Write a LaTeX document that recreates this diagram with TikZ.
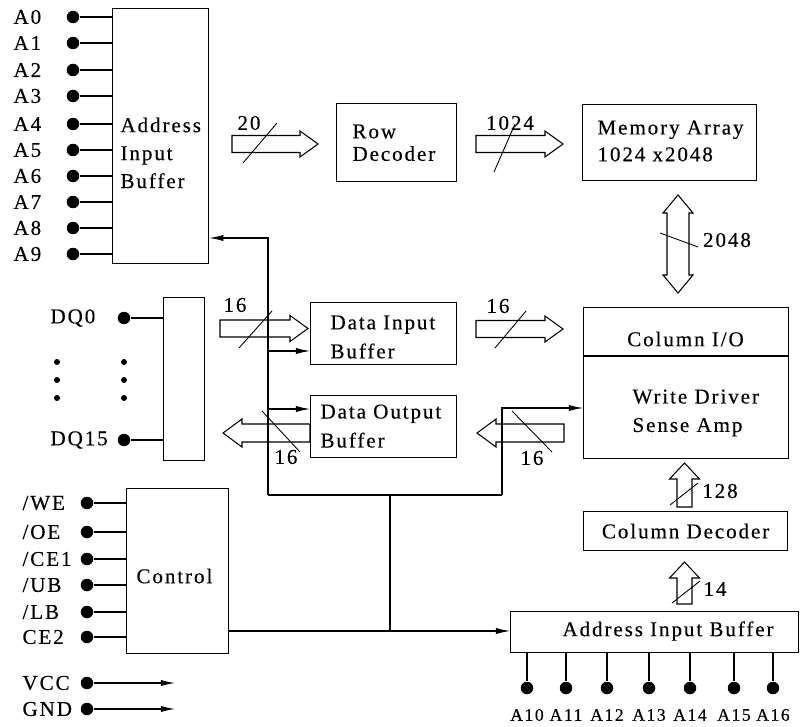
\documentclass[tikz,border=0pt]{standalone}
\usepackage{fontspec}
\setmainfont{Liberation Serif}[LetterSpace=9, FakeBold=0.3]
\usetikzlibrary{arrows.meta}

\newcommand{\pxu}{0.02cm}
% hollow bus arrows, numbers in pixels: tail x, tip x, centre y
\newcommand{\busright}[3]{%
  \draw[bus] (#1,#3-8.5) -- (#2-18,#3-8.5) -- (#2-18,#3-13) -- (#2,#3)
    -- (#2-18,#3+13) -- (#2-18,#3+8.5) -- (#1,#3+8.5) -- cycle;}
\newcommand{\busleft}[3]{%
  \draw[bus] (#1,#3-9) -- (#2+19,#3-9) -- (#2+19,#3-14) -- (#2,#3)
    -- (#2+19,#3+14) -- (#2+19,#3+9) -- (#1,#3+9) -- cycle;}
% centre x, tail y, tip y
\newcommand{\busup}[3]{%
  \draw[bus] (#1-7.5,#2) -- (#1-7.5,#3+16) -- (#1-15,#3+16) -- (#1,#3)
    -- (#1+15,#3+16) -- (#1+7.5,#3+16) -- (#1+7.5,#2) -- cycle;}

\begin{document}
\begin{tikzpicture}[x=0.02cm, y=-0.02cm, line width=0.6pt,
  every node/.style={font=\fontsize{12}{14}\selectfont},
  block/.style={draw, line width=0.7pt, anchor=north west, inner sep=0pt},
  txt/.style={inner sep=0pt, align=left},
  pin/.style={circle, fill, inner sep=0pt, minimum size=0.25cm},
  tinydot/.style={circle, fill, inner sep=0pt, minimum size=0.12cm},
  sig/.style={-{Latex[length=8pt,width=3.5pt]}},
  bus/.style={line width=0.6pt},
  slash/.style={line width=0.5pt}]

  \useasboundingbox (0,0) rectangle (800,726);

  % --- row address side ---
  \node[block, minimum width=96*\pxu, minimum height=255*\pxu] (aib) at (112,8) {};
  \node[txt, anchor=north west, font=\fontsize{12}{15.9}\selectfont] (aibtxt) at (120,117)
    {Address\\Input\\Buffer};
  \foreach \i/\y in {0/17,1/43,2/70,3/96,4/124,5/150,6/176,7/202,8/228,9/254} {
    \node[pin] (pa\i) at (73,\y) {};
    \node[txt, anchor=west] (la\i) at (13,\y) {A\i};
    \draw (pa\i) -- (pa\i -| aib.west);
  }

  \node[block, minimum width=120*\pxu, minimum height=78*\pxu] (rowdec) at (336,103) {};
  \node[txt, anchor=north west, font=\fontsize{12}{12.8}\selectfont] (rowtxt) at (352,124)
    {Row\\Decoder};
  \node[block, minimum width=174*\pxu, minimum height=76*\pxu] (mem) at (582,104) {};
  \node[txt, anchor=north west, font=\fontsize{12}{15.3}\selectfont] (memtxt) at (597,120)
    {Memory Array\\1024 x2048};

  % --- column I/O block ---
  \node[block, minimum width=205*\pxu, minimum height=151*\pxu] (col) at (583,307) {};
  \draw[line width=0.7pt] (col.west |- 0,356) -- (col.east |- 0,356);
  \node (coltxt) at (685.5,339) {Column I/O};
  \node[txt, anchor=north west, font=\fontsize{12}{16.2}\selectfont] (satxt) at (632,389)
    {Write Driver\\Sense Amp};

  % --- data buffers ---
  \node[block, minimum width=146*\pxu, minimum height=62*\pxu] (dib) at (310,302) {};
  \node[txt, anchor=north west, font=\fontsize{12}{16.5}\selectfont] (dibtxt) at (330,315)
    {Data Input\\Buffer};
  \node[block, minimum width=146*\pxu, minimum height=62*\pxu] (dob) at (310,395) {};
  \node[txt, anchor=north west, font=\fontsize{12}{16.5}\selectfont] (dobtxt) at (320,404)
    {Data Output\\Buffer};

  \node[block, minimum width=41*\pxu, minimum height=163*\pxu] (dq) at (163,297) {};
  \foreach \n/\y in {0/318,15/440} {
    \node[pin] (pdq\n) at (124,\y) {};
    \node[txt, anchor=west] (ldq\n) at (50,\y) {DQ\n};
    \draw (pdq\n) -- (pdq\n -| dq.west);
  }
  \foreach \x in {57,124}
    \foreach \y in {362,380,398}
      \node[tinydot] (el\x\y) at (\x,\y) {};

  % --- control ---
  \node[block, minimum width=102*\pxu, minimum height=165*\pxu] (ctl) at (126,488) {};
  \node[txt, anchor=west] (ctltxt) at (136,576) {Control};
  \foreach \s/\y [count=\k] in {{/WE}/503,{/OE}/532,{/CE1}/559,{/UB}/585,{/LB}/612,{CE2}/637} {
    \node[pin] (pc\k) at (87,\y) {};
    \node[txt, anchor=west] (lc\k) at (22,\y) {\s};
    \draw (pc\k) -- (pc\k -| ctl.west);
  }
  \foreach \s/\y in {VCC/683,GND/709} {
    \node[pin] (p\s) at (87,\y) {};
    \node[txt, anchor=west] (l\s) at (22,\y) {\s};
    \coordinate (e\s) at (175,\y);
    \draw[sig] (p\s) -- (e\s);
  }

  % --- column address side ---
  \node[block, minimum width=204*\pxu, minimum height=39*\pxu] (coldec) at (583,511) {Column Decoder};
  \node[block, minimum width=288*\pxu, minimum height=41*\pxu] (aibb) at (510,611) {};
  \node[txt, anchor=west] (aibbtxt) at (562,631) {Address Input Buffer};
  \foreach \x [count=\n from 10] in {527,566,607,649,690,734,773} {
    \node[pin] (pb\n) at (\x,688) {};
    \node[font=\fontsize{10}{12}\selectfont] (lb\n) at (\x,715) {A\n};
    \draw (pb\n) -- (pb\n |- aibb.south);
  }

  % --- control bus ---
  \coordinate (fb) at (268,238);
  \coordinate (busL) at (268,495);
  \coordinate (busM) at (390,495);
  \coordinate (busR) at (502,495);
  \coordinate (tapdi) at (268,351);
  \coordinate (tapdo) at (268,409);
  \coordinate (tapsa) at (502,408);
  \coordinate (jn) at (390,631);
  \draw[sig] (busL) -- (fb) -- (fb -| aib.east);
  \draw (busL) -- (busR);
  \draw[sig] (busR) -- (tapsa) -- (tapsa -| col.west);
  \draw[sig] (tapdi) -- (tapdi -| dib.west);
  \draw[sig] (tapdo) -- (tapdo -| dob.west);
  \draw (busM) -- (jn);
  \draw[sig] (jn -| ctl.east) -- (jn -| aibb.west);

  % --- wide buses ---
  \busright{232}{318}{144}
  \busright{476}{563}{144}
  \busright{220}{308}{328.5}
  \busright{476}{563}{329}
  \busleft{310}{223}{433}
  \busleft{564}{477}{433}
  \busup{684.5}{507}{463}
  \busup{684.5}{604}{562}
  \draw[bus] (667,213) -- (663,213) -- (678,195) -- (693,213) -- (689,213) -- (689,275)
    -- (693,275) -- (678,293) -- (663,275) -- (667,275) -- cycle;

  \draw[slash] (243,163) -- (277,123);
  \draw[slash] (494,172) -- (515,124);
  \draw[slash] (239,348) -- (272,311);
  \draw[slash] (495,348) -- (526,311);
  \draw[slash] (262,411) -- (300,452);
  \draw[slash] (512,411) -- (552,452);
  \draw[slash] (660,233) -- (698,247);
  \draw[slash] (670,505) -- (698,483);
  \draw[slash] (672,603) -- (700,581);

  \node (w20) at (249,123) {20};
  \node (w1024) at (510,123) {1024};
  \node (w16a) at (235,305) {16};
  \node (w16b) at (498,306) {16};
  \node (w16c) at (286,457) {16};
  \node (w16d) at (532,458) {16};
  \node (w2048) at (727,240) {2048};
  \node (w128) at (720,491) {128};
  \node (w14) at (715,589) {14};

\end{tikzpicture}
\end{document}
